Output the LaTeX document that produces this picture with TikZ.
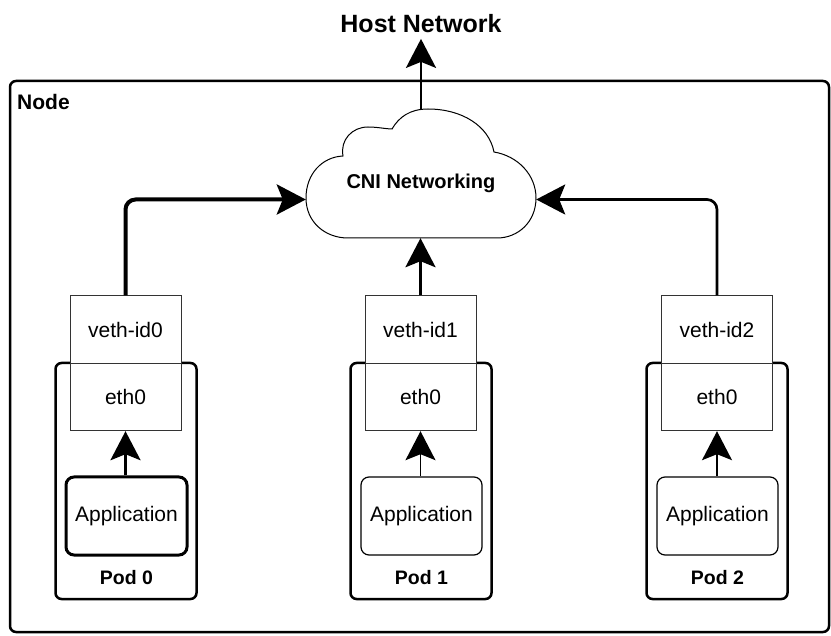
\documentclass[tikz,border=0pt]{standalone}
\usepackage{fontspec}
\setmainfont{Liberation Sans}
\usetikzlibrary{arrows.meta}
\begin{document}
\begin{tikzpicture}[x=1pt,y=-1pt,
  arrowhd/.style={-{Stealth[length=29pt,width=30pt,inset=6pt]}},
  podbox/.style={draw, rounded corners=6pt, line width=2.5pt, minimum width=141pt, minimum height=236pt, inner sep=0pt},
  ifbox/.style={draw=black!80, fill=white, line width=0.9pt, minimum width=111pt, minimum height=67.5pt, inner sep=0pt, font=\fontsize{21}{25}\selectfont},
  appbox/.style={draw, rounded corners=8pt, minimum width=121pt, minimum height=78pt, inner sep=0pt, font=\fontsize{21}{25}\selectfont},
  podlbl/.style={inner sep=0pt, font=\bfseries\fontsize{19.5}{23}\selectfont},
]
\useasboundingbox (0,0) rectangle (831,636);

% outer node frame
\node[draw, rounded corners=6pt, line width=2.5pt, minimum width=819pt, minimum height=551pt, inner sep=0pt] (nodebox) at (419.5,356.5) {};
\node[anchor=west, inner sep=0pt, font=\bfseries\fontsize{21}{25}\selectfont] (nodelbl) at (17,102) {Node};

% host network label
\node[inner sep=0pt, font=\bfseries\fontsize{25}{29}\selectfont] (host) at (421,23.5) {Host Network};

% CNI cloud
\draw[line width=1pt, fill=white]
  (348,238) .. controls (325,238) and (306,222) .. (306,198)
  .. controls (306,174) and (322,157) .. (343,156)
  .. controls (340,140) and (352,127) .. (368,127)
  .. controls (378,127) and (386,129) .. (392,129)
  .. controls (399,117) and (410,109) .. (428,109)
  .. controls (462,109) and (489,126) .. (494,152)
  .. controls (518,156) and (536,175) .. (536,198)
  .. controls (536,222) and (518,238) .. (497,238)
  -- cycle;
\node[minimum width=230pt, minimum height=129pt, inner sep=0pt] (cloud) at (421,173.5) {};
\node[inner sep=0pt, font=\bfseries\fontsize{20}{24}\selectfont] (cnilbl) at (421,183) {CNI Networking};

% pods
\node[podbox] (pod0) at (126,481) {};
\node[podbox] (pod1) at (421,481) {};
\node[podbox] (pod2) at (717,481) {};

\node[ifbox] (veth0) at (125.5,329.5) {veth-id0};
\node[ifbox] (eth0a) at (125.5,397) {eth0};
\node[ifbox] (veth1) at (420.5,329.5) {veth-id1};
\node[ifbox] (eth0b) at (420.5,397) {eth0};
\node[ifbox] (veth2) at (717,329.5) {veth-id2};
\node[ifbox] (eth0c) at (717,397) {eth0};

\node[appbox, line width=3pt] (app0) at (126.5,516) {Application};
\node[appbox, line width=1.2pt] (app1) at (421.5,516) {Application};
\node[appbox, line width=1.2pt] (app2) at (717.5,516) {Application};

\node[podlbl] (pl0) at (126.5,578) {Pod 0};
\node[podlbl] (pl1) at (421.5,578) {Pod 1};
\node[podlbl] (pl2) at (717.5,578) {Pod 2};

% application to eth0
\draw[arrowhd, line width=3pt] (app0.north -| eth0a) -- (eth0a.south);
\draw[arrowhd, line width=1.5pt] (app1.north -| eth0b) -- (eth0b.south);
\draw[arrowhd, line width=1.5pt] (app2.north -| eth0c) -- (eth0c.south);

% veth to CNI
\draw[arrowhd, line width=4pt, rounded corners=10pt] (veth0.north) |- ([yshift=-26pt]cloud.west);
\draw[arrowhd, line width=3pt] (veth1.north) -- (veth1.north |- cloud.south);
\draw[arrowhd, line width=2.7pt, rounded corners=10pt] (veth2.north) |- ([yshift=-26pt]cloud.east);

% CNI to host network
\draw[arrowhd, line width=2.5pt] (cloud.north) -- ([yshift=-6pt]host.south);
\end{tikzpicture}
\end{document}
